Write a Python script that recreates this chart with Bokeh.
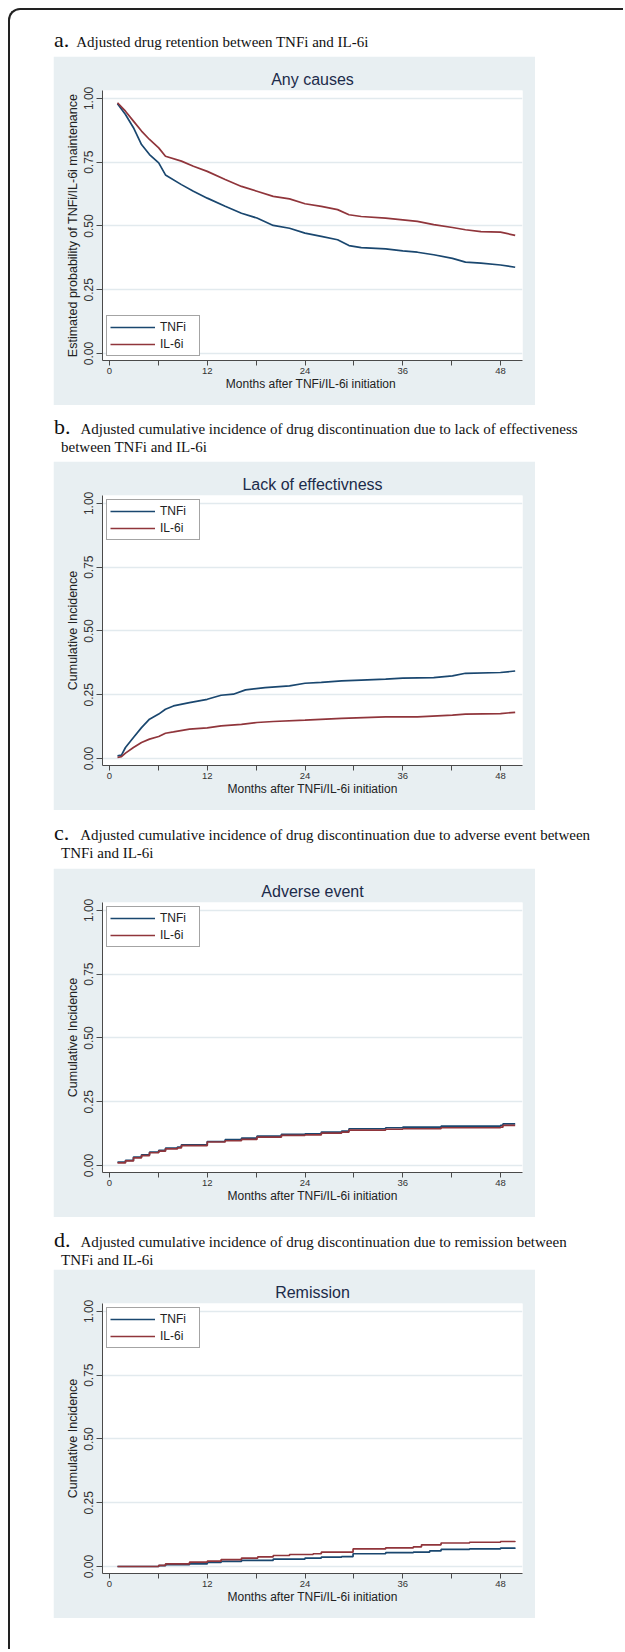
from bokeh.plotting import figure
from bokeh.layouts import column
from bokeh.models import Div, FixedTicker, NumeralTickFormatter, Range1d
from bokeh.embed import file_html
from bokeh.resources import INLINE

SANS = "Liberation Sans"
SERIF = "Liberation Serif"
NAVY = "#1a476f"
MAROON = "#90353b"
PANEL_BG = "#e8eff2"
GRID = "#e2eaee"
AXIS = "#4a4a4a"

# ---------------- data ----------------
series_names = ["TNFi", "IL-6i"]
x_ticks = [0, 6, 12, 18, 24, 30, 36, 42, 48]
x_tick_labels = {6: "", 18: "", 30: "", 42: ""}
y_ticks = [0, 0.25, 0.5, 0.75, 1.0]

# a. Any causes (retention)
a_months = [0.98, 1.96, 2.94, 3.93, 4.91, 6.04, 6.87, 8.83, 10.3, 12.0, 14.2, 16.2, 18.1, 20.1,
            22.1, 24.0, 26.0, 28.0, 29.4, 30.9, 33.9, 36.0, 37.8, 39.8, 42.1, 43.7, 45.6, 48.0, 49.8]
a_tnfi = [0.979, 0.937, 0.885, 0.819, 0.78, 0.747, 0.70, 0.662, 0.636, 0.609, 0.577, 0.55, 0.531,
          0.502, 0.491, 0.472, 0.459, 0.446, 0.423, 0.415, 0.41, 0.402, 0.397, 0.387, 0.373, 0.358,
          0.354, 0.347, 0.338]
a_il6 = [0.983, 0.95, 0.911, 0.872, 0.839, 0.806, 0.773, 0.754, 0.734, 0.714, 0.682, 0.655, 0.636,
         0.616, 0.606, 0.587, 0.577, 0.564, 0.544, 0.537, 0.531, 0.524, 0.518, 0.505, 0.494, 0.485,
         0.478, 0.476, 0.463]

# b. Lack of effectiveness
b_months_tnfi = [0.98, 1.47, 1.96, 2.94, 3.93, 4.91, 6.04, 6.87, 7.85, 9.82, 12.0, 13.7, 15.2, 16.7,
                 19.1, 22.1, 24.0, 26.0, 28.5, 30.9, 33.9, 36.0, 39.8, 42.1, 43.7, 48.0, 49.8]
b_tnfi = [0.01, 0.013, 0.043, 0.082, 0.121, 0.154, 0.174, 0.193, 0.206, 0.219, 0.232, 0.248, 0.252,
          0.269, 0.278, 0.285, 0.295, 0.298, 0.304, 0.307, 0.311, 0.315, 0.317, 0.324, 0.334, 0.337,
          0.343]
b_months_il6 = [0.98, 1.47, 1.96, 2.94, 3.93, 4.91, 6.04, 6.87, 7.85, 9.82, 12.0, 13.7, 16.2, 18.1,
                20.1, 24.0, 28.5, 33.9, 37.8, 42.1, 43.7, 48.0, 49.8]
b_il6 = [0.004, 0.007, 0.021, 0.043, 0.063, 0.076, 0.086, 0.099, 0.104, 0.115, 0.12, 0.128, 0.134,
         0.141, 0.145, 0.15, 0.157, 0.163, 0.163, 0.17, 0.174, 0.176, 0.181]

# c. Adverse event
c_months = [0.98, 1.96, 2.94, 3.93, 4.91, 6.04, 6.87, 8.34, 8.83, 12.0, 14.2, 16.2, 18.1, 21.1, 24.0,
            26.0, 28.5, 29.4, 33.9, 36.0, 40.7, 48.0, 48.3, 49.8]
c_tnfi = [0.013, 0.02, 0.033, 0.042, 0.052, 0.059, 0.068, 0.072, 0.081, 0.094, 0.101, 0.107, 0.115,
          0.122, 0.124, 0.131, 0.135, 0.144, 0.148, 0.15, 0.154, 0.157, 0.163, 0.163]
c_il6 = [0.01, 0.018, 0.03, 0.039, 0.05, 0.056, 0.065, 0.069, 0.078, 0.092, 0.097, 0.102, 0.111,
         0.118, 0.12, 0.127, 0.131, 0.139, 0.142, 0.144, 0.148, 0.15, 0.157, 0.157]

# d. Remission
d_months_tnfi = [0.98, 6.04, 6.87, 9.82, 12.0, 13.7, 16.2, 20.1, 24.0, 26.0, 28.5, 29.9, 33.9, 37.3,
                 39.3, 40.7, 44.2, 48.0, 49.8]
d_tnfi = [0.0, 0.003, 0.007, 0.01, 0.016, 0.02, 0.024, 0.029, 0.033, 0.037, 0.039, 0.05, 0.054,
          0.056, 0.061, 0.067, 0.069, 0.072, 0.073]
d_months_il6 = [0.98, 6.04, 6.87, 9.82, 12.0, 13.7, 16.2, 18.2, 20.1, 22.1, 25.0, 26.0, 28.5, 29.9,
                33.9, 37.3, 38.3, 40.7, 44.2, 48.0, 49.8]
d_il6 = [0.0, 0.004, 0.01, 0.017, 0.021, 0.027, 0.033, 0.038, 0.043, 0.047, 0.05, 0.056, 0.056,
         0.069, 0.073, 0.077, 0.085, 0.092, 0.095, 0.098, 0.099]

titles = ["Any causes", "Lack of effectivness", "Adverse event", "Remission"]
y_labels = ["Estimated probability of TNFi/IL-6i maintenance", "Cumulative Incidence",
            "Cumulative Incidence", "Cumulative Incidence"]
x_labels = ["Months  after TNFi/IL-6i initiation", "Months after TNFi/IL-6i initiation",
            "Months after TNFi/IL-6i initiation", "Months after TNFi/IL-6i initiation"]
captions = [
    ("a.", "Adjusted drug retention between TNFi and IL-6i", None),
    ("b.", "Adjusted cumulative incidence of drug discontinuation due to lack of effectiveness",
     "between TNFi and IL-6i"),
    ("c.", "Adjusted cumulative incidence of drug discontinuation due to adverse event between",
     "TNFi and IL-6i"),
    ("d.", "Adjusted cumulative incidence of drug discontinuation due to remission between",
     "TNFi and IL-6i"),
]


def make_panel(title, ylabel, xlabel, tnfi_x, tnfi_y, il6_x, il6_y, legend_loc, stepped):
    p = figure(width=482, height=349, output_backend="svg", toolbar_location=None,
               x_range=Range1d(-0.86, 50.7), y_range=Range1d(-0.0275, 1.031),
               min_border_left=49, min_border_right=13, min_border_top=34, min_border_bottom=45,
               background_fill_color="white", border_fill_color=PANEL_BG,
               outline_line_color=None, margin=(0, 0, 0, 43))
    p.title.text = title
    p.title.align = "center"
    p.title.text_font = SANS
    p.title.text_font_size = "16px"
    p.title.text_font_style = "normal"
    p.title.text_color = "#1c2b4a"
    p.title.standoff = 5

    p.xgrid.visible = False
    p.ygrid.grid_line_color = GRID
    p.ygrid.grid_line_width = 1.5

    p.xaxis.ticker = FixedTicker(ticks=x_ticks)
    p.xaxis.major_label_overrides = x_tick_labels
    p.yaxis.ticker = FixedTicker(ticks=y_ticks)
    p.yaxis.formatter = NumeralTickFormatter(format="0.00")
    p.yaxis.major_label_orientation = "vertical"

    for ax in (p.xaxis, p.yaxis):
        ax.axis_line_color = AXIS
        ax.major_tick_line_color = AXIS
        ax.major_tick_in = 0
        ax.minor_tick_line_color = None
        ax.major_label_text_font = SANS
        ax.major_label_text_color = "#333333"
        ax.axis_label_text_font = SANS
        ax.axis_label_text_font_style = "normal"
        ax.axis_label_text_color = "#222222"
    p.xaxis.major_tick_out = 5
    p.yaxis.major_tick_out = 6
    p.xaxis.axis_label_text_font_size = "12px"
    p.yaxis.axis_label_text_font_size = "12.5px"
    p.xaxis.major_label_text_font_size = "9.5px"
    p.yaxis.major_label_text_font_size = "12px"
    p.xaxis.major_label_standoff = 2
    p.yaxis.major_label_standoff = 3
    p.xaxis.axis_label_standoff = 0
    p.yaxis.axis_label_standoff = 2
    p.xaxis.axis_label = xlabel
    p.yaxis.axis_label = ylabel

    if stepped:
        p.step(tnfi_x, tnfi_y, mode="after", line_color=NAVY, line_width=1.7, legend_label=series_names[0])
        p.step(il6_x, il6_y, mode="after", line_color=MAROON, line_width=1.7, legend_label=series_names[1])
    else:
        p.line(tnfi_x, tnfi_y, line_color=NAVY, line_width=1.7, legend_label=series_names[0])
        p.line(il6_x, il6_y, line_color=MAROON, line_width=1.7, legend_label=series_names[1])

    lg = p.legend[0]
    lg.location = legend_loc
    lg.margin = 4
    lg.padding = 3
    lg.spacing = 1
    lg.glyph_width = 45
    lg.glyph_height = 16
    lg.label_height = 16
    lg.label_width = 36
    lg.label_standoff = 5
    lg.label_text_font = SANS
    lg.label_text_font_size = "12px"
    lg.label_text_color = "#222222"
    lg.border_line_color = AXIS
    lg.border_line_width = 1
    lg.background_fill_color = "white"
    lg.background_fill_alpha = 1
    return p


def make_caption(letter, line1, line2, height, pad_top, gap):
    second = ""
    if line2:
        second = f'<div style="padding-left:7px">{line2}</div>'
    html = (
        f'<div style="font-family:\'{SERIF}\'; font-size:15px; line-height:18px; color:#111; '
        f'white-space:nowrap; padding-top:{pad_top}px; padding-left:1px">'
        f'<span style="font-size:22px">{letter}</span>'
        f'<span style="margin-left:{gap}px">{line1}</span>{second}</div>'
    )
    return Div(text=html, width=568, height=height, margin=(0, 0, 0, 43))


panels = [
    make_panel(titles[0], y_labels[0], x_labels[0], a_months, a_tnfi, a_months, a_il6, "bottom_left", False),
    make_panel(titles[1], y_labels[1], x_labels[1], b_months_tnfi, b_tnfi, b_months_il6, b_il6, "top_left", False),
    make_panel(titles[2], y_labels[2], x_labels[2], c_months, c_tnfi, c_months, c_il6, "top_left", True),
    make_panel(titles[3], y_labels[3], x_labels[3], d_months_tnfi, d_tnfi, d_months_il6, d_il6, "top_left", True),
]

cap_heights = [46, 56, 58, 52]
cap_pads = [21, 13, 14, 14]
cap_gaps = [7, 10, 11, 10]
children = []
for i in range(4):
    letter, l1, l2 = captions[i]
    children.append(make_caption(letter, l1, l2, cap_heights[i], cap_pads[i], cap_gaps[i]))
    children.append(panels[i])
children.append(Div(text="", width=10, height=31, margin=0))

page = column(children, spacing=0, width=615, margin=(8, 0, 0, 8),
              styles={"border-left": "2px solid #222", "border-top": "2px solid #222",
                      "border-top-left-radius": "12px"})

open("out.html", "w").write(file_html(page, INLINE))
